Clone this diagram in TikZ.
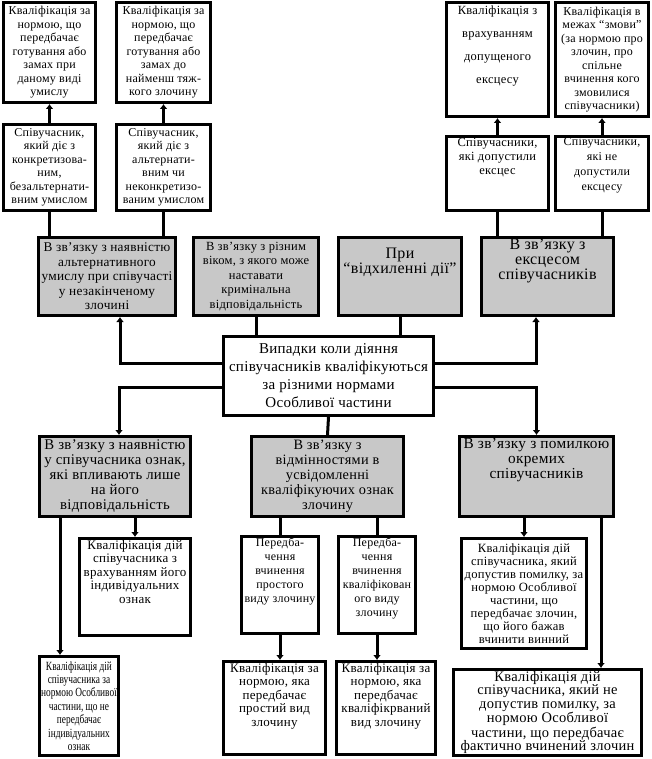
\documentclass[tikz,border=0pt]{standalone}
\usepackage{fontspec}
\setmainfont{Liberation Serif}[LetterSpace=2]
\newfontfamily\narrowfont{Liberation Serif}[FakeStretch=0.75]
\usetikzlibrary{arrows.meta}
\definecolor{boxgray}{RGB}{200,200,200}
\newcommand{\cell}[4]{\parbox[c][#2pt][#3]{#1pt}{\centering\hyphenpenalty=10000 #4}}

\begin{document}
\begin{tikzpicture}[
        x=1pt, y=-1pt,
        wbox/.style={draw=black, line width=3pt, fill=white, inner sep=1.5pt},
        gbox/.style={wbox, fill=boxgray},
        fs/.style 2 args={font=\fontsize{#1}{#2}\selectfont},
        link/.style={line width=3pt},
        arr/.style={line width=3pt, -{Latex[length=5pt,width=8pt]}}
      ]
        \path[use as bounding box, fill=white] (0,0) rectangle (651,759);

        \node (t1) at (49.5, 52.5)   [wbox, fs={12}{13.5}] {\cell{89}{97}{c}{Кваліфікація за\\ нормою, що\\ передбачає\\ готування або\\ замах при\\ даному виді\\ умислу}};
        \node (t2) at (163.5, 52.5)  [wbox, fs={12}{13.5}] {\cell{91}{97}{c}{Кваліфікація за\\ нормою, що\\ передбачає\\ готування або\\ замах до\\ найменш тяж-\\ кого злочину}};
        \node (m1) at (49.5, 167.5)  [wbox, fs={12}{13.5}] {\cell{89}{83}{c}{Співучасник,\\ який діє з\\ конкретизова-\\ ним,\\ безальтернати-\\ вним умислом}};
        \node (m2) at (163.5, 167.5) [wbox, fs={12}{13.5}] {\cell{91}{83}{c}{Співучасник,\\ який діє з\\ альтернати-\\ вним чи\\ неконкретизо-\\ ваним умислом}};
        \node (t3) at (497.5, 59.5)  [wbox, fs={12.5}{13.5}] {\cell{99}{111}{t}{\vspace*{2pt}Кваліфікація з\\[9.5pt] врахуванням\\[9.5pt] допущеного\\[9.5pt] ексцесу}};
        \node (t4) at (602, 59.5)    [wbox, fs={12}{13.5}] {\cell{90}{111}{c}{Кваліфікація в\\ межах “змови”\\ (за нормою про\\ злочин, про\\ спільне\\ вчинення кого\\ змовилися\\ співучасники)}};
        \node (m3) at (497.5, 173.5) [wbox, fs={12.5}{14}] {\cell{99}{71}{t}{Співучасники,\\ які допустили\\ ексцес}};
        \node (m4) at (602, 173.5)   [wbox, fs={12}{15}] {\cell{90}{71}{t}{Співучасники,\\ які не\\ допустили\\ ексцесу}};

        \node (g1) at (107, 276.5)   [gbox, fs={13.3}{14.5}] {\cell{134}{75}{c}{В зв’язку з наявністю\\ альтернативного\\ умислу при співучасті\\ у незакінченому\\ злочині}};
        \node (g2) at (256, 276.5)   [gbox, fs={12.5}{14.5}] {\cell{122}{75}{c}{В зв’язку з різним\\ віком, з якого може\\ наставати\\ кримінальна\\ відповідальність}};
        \node (g3) at (400, 276.5)   [gbox, fs={16}{15}] {\cell{120}{75}{t}{\vspace*{9pt}При\\ “відхиленні дії”}};
        \node (g4) at (547.5, 276.5) [gbox, fs={16}{15}] {\cell{129}{75}{t}{В зв’язку з\\ ексцесом\\ співучасників}};

        \node (c) at (328.5, 376)    [wbox, fs={15}{18}] {\cell{207}{76}{c}{Випадки коли діяння\\ співучасників кваліфікуються\\ за різними нормами\\ Особливої частини}};

        \node (b1) at (115, 476.5)   [gbox, fs={14.8}{15}] {\cell{148}{77}{c}{В зв’язку з наявністю\\ у співучасника ознак,\\ які впливають лише\\ на його\\ відповідальність}};
        \node (b2) at (327.5, 476.5) [gbox, fs={14.3}{15}] {\cell{149}{77}{c}{В зв’язку з\\ відмінностями в\\ усвідомленні\\ кваліфікуючих ознак\\ злочину}};
        \node (b3) at (536.5, 476.5) [gbox, fs={15.3}{15}] {\cell{151}{77}{t}{В зв’язку з помилкою\\ окремих\\ співучасників}};

        \node (b1a) at (135, 587)    [wbox, fs={13}{13.5}] {\cell{108}{94}{t}{Кваліфікація дій\\ співучасника з\\ врахуванням його\\ індивідуальних\\ ознак}};
        \node (b1b) at (79, 706)     [wbox, font=\narrowfont\fontsize{12.5}{13.4}\selectfont, inner sep=1pt] {\cell{77}{97}{c}{Кваліфікація дій\\ співучасника за\\ нормою Особливої\\ частини, що не\\ передбачає\\ індивідуальних\\ ознак}};
        \node (b2a) at (280, 585)    [wbox, fs={12}{14}] {\cell{74}{94}{t}{Передба-\\ чення\\ вчинення\\ простого\\ виду злочину}};
        \node (b2b) at (377, 585)    [wbox, fs={12}{14}] {\cell{74}{94}{t}{Передба-\\ чення\\ вчинення\\ кваліфікован\\ ого виду\\ злочину}};
        \node (b2c) at (274.5, 708)  [wbox, fs={13}{13.5}] {\cell{99}{90}{t}{Кваліфікація за\\ нормою, яка\\ передбачає\\ простий вид\\ злочину}};
        \node (b2d) at (386, 708)    [wbox, fs={13}{13.5}] {\cell{96}{90}{t}{Кваліфікація за\\ нормою, яка\\ передбачає\\ кваліфікрваний\\ вид злочину}};
        \node (b3a) at (524, 593.5)  [wbox, fs={12.6}{13}] {\cell{122}{107}{c}{Кваліфікація дій\\ співучасника, який\\ допустив помилку, за\\ нормою Особливої\\ частини, що\\ передбачає злочин,\\ що його бажав\\ вчинити винний}};
        \node (b3b) at (547.5, 712.5) [wbox, fs={14.5}{13.4}] {\cell{185}{83}{c}{Кваліфікація дій\\ співучасника, який не\\ допустив помилку, за\\ нормою Особливої\\ частини, що передбачає\\ фактично вчинений злочин}};

        \draw [arr] (m1) -- (t1);
        \draw [arr] (m2) -- (t2);
        \draw [arr] (m3) -- (t3);
        \draw [arr] (m4) -- (t4);
        \draw [link] (g1.north -| m1) -- (m1.south);
        \draw [link] (g1.north -| m2) -- (m2.south);
        \draw [link] (g4.north -| m3) -- (m3.south);
        \draw [link] (g4.north -| m4) -- (m4.south);

        \draw [arr] (c.west |- 0,363) -| (120,0 |- g1.south);
        \draw [link] (c.north -| g2) -- (g2.south);
        \draw [link] (c.north -| g3) -- (g3.south);
        \draw [arr] (c.east |- 0,363) -| (536,0 |- g4.south);
        \draw [arr] (c.west |- 0,387) -| (119,0 |- b1.north);
        \draw [link] (c.south) -- (b2.north);
        \draw [arr] (c.east |- 0,387) -| (b3.north);

        \draw [arr] (b1.south -| b1a) -- (b1a.north);
        \draw [arr] (60,0 |- b1.south) -- (60,0 |- b1b.north);
        \draw [link] (b2.south -| b2a) -- (b2a.north);
        \draw [link] (b2.south -| b2b) -- (b2b.north);
        \draw [arr] (b2a.south) -- (b2a.south |- b2c.north);
        \draw [arr] (b2b.south) -- (b2b.south |- b2d.north);
        \draw [arr] (b3.south -| b3a) -- (b3a.north);
        \draw [arr] (601,0 |- b3.south) -- (601,0 |- b3b.north);
      \end{tikzpicture}
\end{document}
